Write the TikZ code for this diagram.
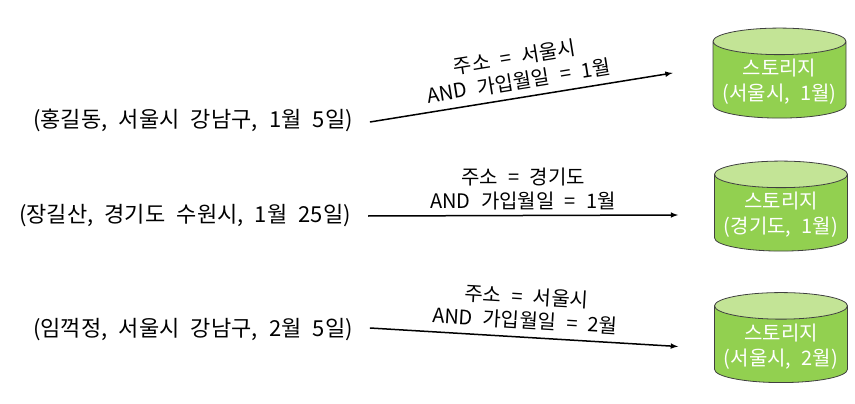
\documentclass[tikz,border=0pt]{standalone}
\usepackage{fontspec}
\setmainfont[WordSpace=2.3]{Noto Sans CJK KR}
\usetikzlibrary{shapes.geometric, arrows, positioning, calc}
\definecolor{dbbody}{RGB}{146,208,80}
\definecolor{dbtop}{RGB}{195,228,150}
\definecolor{dbline}{RGB}{64,64,64}
\tikzset{
  rec/.style={font=\fontsize{22}{26}\selectfont, inner xsep=17pt, inner ysep=3pt},
  cond/.style={font=\fontsize{20}{24}\selectfont, align=center, inner sep=3pt},
  store/.style={cylinder, shape border rotate=90, aspect=0.22, draw=dbline, line width=0.8pt,
    cylinder uses custom fill, cylinder body fill=dbbody, cylinder end fill=dbtop,
    minimum width=133pt, minimum height=90pt, text=white, align=center,
    font=\fontsize{20}{25}\selectfont},
  flow/.style={-latex, line width=1.5pt}
}
\begin{document}
\begin{tikzpicture}[x=1pt,y=-1pt]
\useasboundingbox (0,0) rectangle (855,404);
% record 1: Seoul, January
\node[rec] (rec1) at (193,120) {(홍길동, 서울시 강남구, 1월 5일)};
\node[store] (db1) at (779.5,82) {스토리지\\(서울시, 1월)};
\draw[flow] ([yshift=-2pt]rec1.east) -- ([xshift=-40pt,yshift=9pt]db1.west)
  node[midway, above=4pt, sloped, cond] {주소 = 서울시\\AND 가입월일 = 1월};

% record 2: Gyeonggi, January
\node[rec] (rec2) at (185,216) {(장길산, 경기도 수원시, 1월 25일)};
\node[store] (db2) at (781,215) {스토리지\\(경기도, 1월)};
\draw[flow] (rec2.east) -- ([xshift=-36pt]db2.west)
  node[midway, above=2pt, cond] {주소 = 경기도\\AND 가입월일 = 1월};

% record 3: Seoul, February
\node[rec] (rec3) at (193,330) {(임꺽정, 서울시 강남구, 2월 5일)};
\node[store] (db3) at (781,346.5) {스토리지\\(서울시, 2월)};
\draw[flow] ([yshift=2pt]rec3.east) -- ([xshift=-36pt]db3.west)
  node[midway, above=4pt, sloped, cond] {주소 = 서울시\\AND 가입월일 = 2월};
\end{tikzpicture}
\end{document}
